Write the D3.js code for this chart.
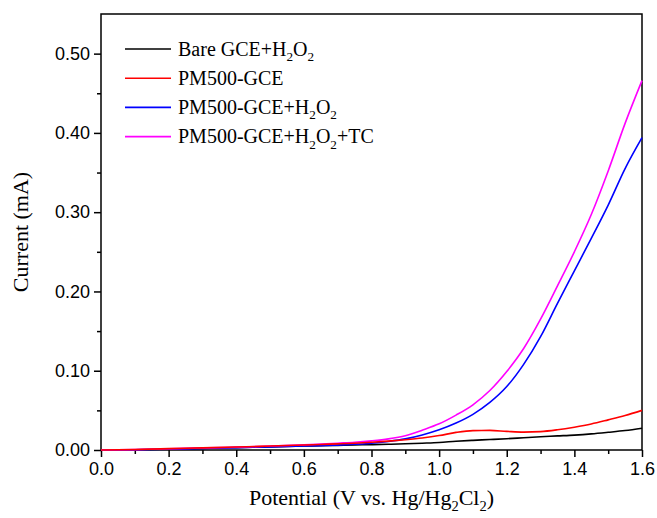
<!DOCTYPE html>
<html>
<head>
<meta charset="utf-8">
<script src="https://cdn.jsdelivr.net/npm/d3@7"></script>
<style>
  body { margin: 0; background: #fff; }
  svg { display: block; }
</style>
</head>
<body>
<div id="chart"></div>
<script>
// potential grid (V) shared by all four scans
const potential = [0, 0.1, 0.2, 0.3, 0.4, 0.5, 0.6, 0.65, 0.7, 0.75, 0.8, 0.85, 0.9, 0.95,
    1.0, 1.05, 1.1, 1.15, 1.2, 1.25, 1.3, 1.35, 1.4, 1.45, 1.5, 1.55, 1.6];

// current (mA)
const bareGceH2o2 = [0, 0.0004, 0.0012, 0.002, 0.003, 0.004, 0.005, 0.0054, 0.0058, 0.0063, 0.0068, 0.0072, 0.0078, 0.0086,
    0.0095, 0.011, 0.0122, 0.0132, 0.0142, 0.0155, 0.0168, 0.0178, 0.0188, 0.0203, 0.0223, 0.0245, 0.0275];
const pm500Gce = [0, 0.0007, 0.0017, 0.0027, 0.0037, 0.005, 0.0063, 0.007, 0.0077, 0.0086, 0.0098, 0.0112, 0.013, 0.0152,
    0.0182, 0.0222, 0.0245, 0.0247, 0.0235, 0.0226, 0.0232, 0.0255, 0.0288, 0.0328, 0.038, 0.0435, 0.050];
const pm500GceH2o2 = [0, 0.0003, 0.001, 0.002, 0.003, 0.004, 0.005, 0.0055, 0.0062, 0.0072, 0.0085, 0.0108, 0.014, 0.019,
    0.0255, 0.034, 0.045, 0.06, 0.08, 0.108, 0.143, 0.185, 0.226, 0.267, 0.309, 0.355, 0.394];
const pm500GceH2o2Tc = [0, 0.0005, 0.0015, 0.0025, 0.0035, 0.005, 0.0065, 0.0075, 0.0086, 0.0097, 0.0115, 0.014, 0.018, 0.025,
    0.033, 0.044, 0.057, 0.075, 0.099, 0.128, 0.165, 0.207, 0.25, 0.297, 0.352, 0.412, 0.466];

const xTicks = [0, 0.2, 0.4, 0.6, 0.8, 1.0, 1.2, 1.4, 1.6];
const yTicks = [0, 0.1, 0.2, 0.3, 0.4, 0.5];

// legend labels: [text, is subscript] pieces
const seriesLabels = [
    [["Bare GCE+H", false], ["2", true], ["O", false], ["2", true]],
    [["PM500-GCE", false]],
    [["PM500-GCE+H", false], ["2", true], ["O", false], ["2", true]],
    [["PM500-GCE+H", false], ["2", true], ["O", false], ["2", true], ["+TC", false]]
];
const seriesColors = ["#000000", "#ff0000", "#0000ff", "#ff00ff"];
const seriesValues = [bareGceH2o2, pm500Gce, pm500GceH2o2, pm500GceH2o2Tc];
const drawOrder = [0, 2, 3, 1];

const width = 657, height = 518;
const margin = { top: 14, right: 15, bottom: 68, left: 101 };

const svg = d3.select("#chart").append("svg")
    .attr("width", width)
    .attr("height", height);

const x = d3.scaleLinear().domain([0, 1.6]).range([margin.left, width - margin.right]);
const y = d3.scaleLinear().domain([0, 0.55]).range([height - margin.bottom, margin.top]);

const sansFont = "'Liberation Sans', Arial, sans-serif";
const serifFont = "'Liberation Serif', 'Times New Roman', serif";
const tickFont = 18, legendFont = 20, titleFont = 22;

// minor ticks
svg.append("g")
    .attr("transform", `translate(0,${height - margin.bottom})`)
    .call(d3.axisBottom(x).tickValues(d3.range(0.1, 1.6, 0.2)).tickSize(4).tickFormat(""))
    .call(g => g.select(".domain").remove())
    .call(g => g.selectAll("line").attr("stroke-width", 1.5));
svg.append("g")
    .attr("transform", `translate(${margin.left},0)`)
    .call(d3.axisLeft(y).tickValues(d3.range(0.05, 0.55, 0.1)).tickSize(4).tickFormat(""))
    .call(g => g.select(".domain").remove())
    .call(g => g.selectAll("line").attr("stroke-width", 1.5));

// major ticks + labels
svg.append("g")
    .attr("transform", `translate(0,${height - margin.bottom})`)
    .call(d3.axisBottom(x).tickValues(xTicks).tickSize(7).tickPadding(5).tickFormat(d3.format(".1f")))
    .call(g => g.select(".domain").remove())
    .call(g => g.selectAll("line").attr("stroke-width", 1.5))
    .call(g => g.selectAll("text").attr("font-family", sansFont).attr("font-size", tickFont).attr("fill", "#000"));
svg.append("g")
    .attr("transform", `translate(${margin.left},0)`)
    .call(d3.axisLeft(y).tickValues(yTicks).tickSize(7).tickPadding(4).tickFormat(d3.format(".2f")))
    .call(g => g.select(".domain").remove())
    .call(g => g.selectAll("line").attr("stroke-width", 1.5))
    .call(g => g.selectAll("text").attr("font-family", sansFont).attr("font-size", tickFont).attr("fill", "#000"));

// frame
svg.append("rect")
    .attr("x", margin.left)
    .attr("y", margin.top)
    .attr("width", width - margin.left - margin.right)
    .attr("height", height - margin.top - margin.bottom)
    .attr("fill", "none")
    .attr("stroke", "#000")
    .attr("stroke-width", 1.5);

// curves
const line = d3.line()
    .x((d, i) => x(potential[i]))
    .y(d => y(d))
    .curve(d3.curveMonotoneX);

svg.append("g")
    .selectAll("path")
    .data(drawOrder)
    .join("path")
    .attr("d", k => line(seriesValues[k]))
    .attr("fill", "none")
    .attr("stroke", k => seriesColors[k])
    .attr("stroke-width", 1.6);

// write a label made of normal and subscript pieces
function writeParts(textSel, parts, size) {
    parts.forEach((p, j) => {
        const prevSub = j > 0 && parts[j - 1][1];
        textSel.append("tspan")
            .attr("font-size", p[1] ? size * 0.66 : size)
            .attr("dy", p[1] ? size * 0.27 : (prevSub ? -size * 0.27 : 0))
            .text(p[0]);
    });
}

// legend
const legendX = 125, legendY = 49, legendStep = 29.2;
const legend = svg.append("g")
    .selectAll("g")
    .data(seriesLabels)
    .join("g")
    .attr("transform", (d, i) => `translate(${legendX},${legendY + i * legendStep})`);

legend.append("line")
    .attr("x1", 0).attr("x2", 46)
    .attr("y1", 0).attr("y2", 0)
    .attr("stroke", (d, i) => seriesColors[i])
    .attr("stroke-width", 1.6);

legend.append("text")
    .attr("x", 53)
    .attr("y", 6.5)
    .attr("font-family", serifFont)
    .attr("fill", "#000")
    .each(function (parts) { writeParts(d3.select(this), parts, legendFont); });

// axis titles
svg.append("text")
    .attr("transform", `translate(28,${(margin.top + height - margin.bottom) / 2}) rotate(-90)`)
    .attr("text-anchor", "middle")
    .attr("font-family", serifFont)
    .attr("font-size", titleFont)
    .attr("fill", "#000")
    .text("Current (mA)");

const xTitle = svg.append("text")
    .attr("x", (margin.left + width - margin.right) / 2)
    .attr("y", 505)
    .attr("text-anchor", "middle")
    .attr("font-family", serifFont)
    .attr("fill", "#000");
writeParts(xTitle, [["Potential (V vs. Hg/Hg", false], ["2", true], ["Cl", false], ["2", true], [")", false]], titleFont);
</script>
</body>
</html>
